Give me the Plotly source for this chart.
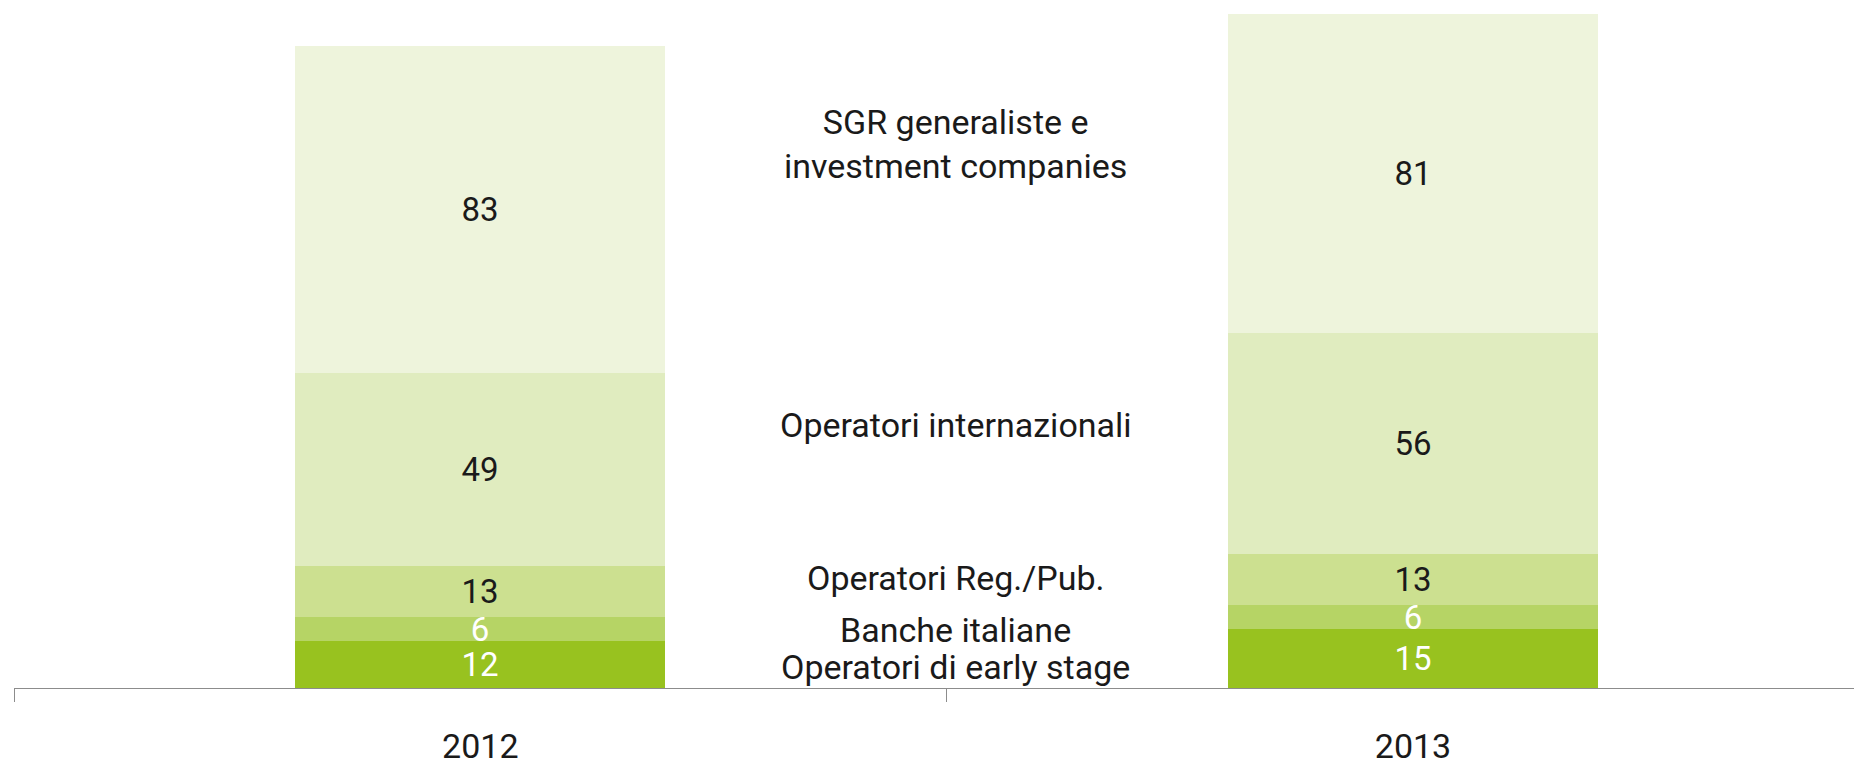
import plotly.graph_objects as go

years = ["2012", "2013"]
series_names = [
    "Operatori di early stage",
    "Banche italiane",
    "Operatori Reg./Pub.",
    "Operatori internazionali",
    "SGR generaliste e<br>investment companies",
]
early_stage = [12, 15]
banche = [6, 6]
reg_pub = [13, 13]
internazionali = [49, 56]
sgr = [83, 81]

values = [early_stage, banche, reg_pub, internazionali, sgr]
colors = ["#98C21F", "#B6D465", "#CCE090", "#E0ECBF", "#EEF4DC"]
text_colors = ["#FFFFFF", "#FFFFFF", "#1A1A1A", "#1A1A1A", "#1A1A1A"]
# vertical position (data units) of the series label in the middle
label_y = [5.3, 14.7, 27.9, 66.8, 138]

FONT = "Roboto"
fig = go.Figure()
for name, vals, col, tcol in zip(series_names, values, colors, text_colors):
    fig.add_trace(go.Bar(
        x=years, y=vals, name=name,
        marker=dict(color=col, line=dict(width=0)),
        width=0.397,
        text=[str(v) for v in vals],
        textposition="inside",
        insidetextanchor="middle",
        constraintext="none",
        textangle=0,
        textfont=dict(family=FONT, size=33, color=tcol),
        hoverinfo="skip",
    ))

for name, yy in zip(series_names, label_y):
    fig.add_annotation(
        x=0.51, y=yy, xref="x", yref="y", text=name, showarrow=False,
        font=dict(family=FONT, size=34, color="#1A1A1A"),
        xanchor="center", yanchor="middle", align="center",
    )

fig.update_layout(
    width=1862, height=764,
    barmode="stack",
    showlegend=False,
    plot_bgcolor="white", paper_bgcolor="white",
    margin=dict(l=6, r=0, t=0, b=84),
    bargap=0,
    font=dict(family=FONT, color="#1A1A1A"),
)
fig.update_xaxes(
    type="category", range=[-0.5, 1.49],
    showline=True, linecolor="#8C8C8C", linewidth=1,
    ticks="outside", tickson="boundaries", ticklen=13, tickcolor="#8C8C8C", tickwidth=1,
    tickfont=dict(family=FONT, size=34, color="#1A1A1A"),
    ticklabelstandoff=28,
    showgrid=False, zeroline=False,
)
fig.update_yaxes(
    range=[0, 172.6], visible=False, showgrid=False, zeroline=False,
)

fig.write_html("out.html")
